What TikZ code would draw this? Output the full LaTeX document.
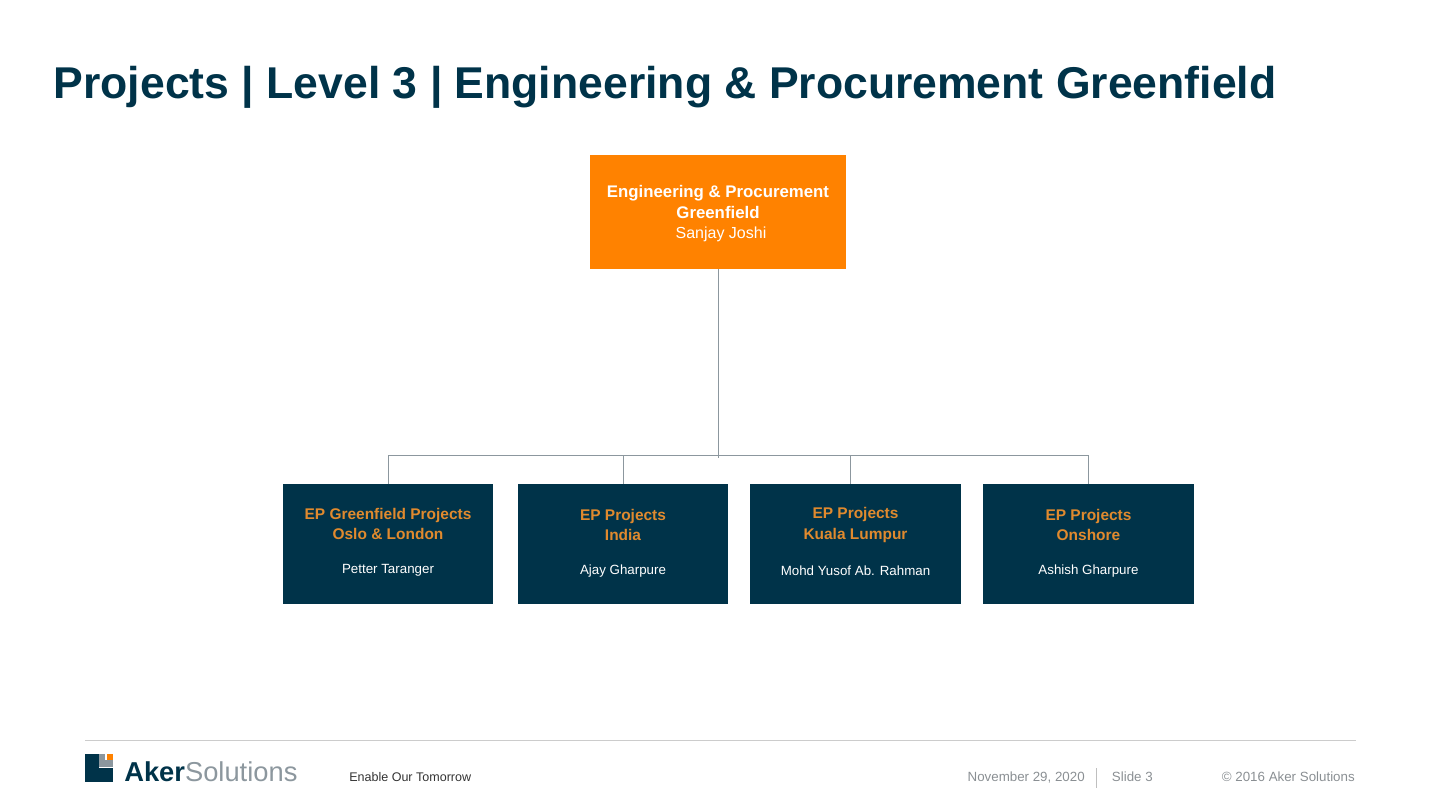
\documentclass[tikz,border=0pt]{standalone}
\usepackage{fontspec}
\setmainfont{Liberation Sans}
\usetikzlibrary{positioning}
\definecolor{akerblue}{HTML}{003349}
\definecolor{akerorange}{HTML}{FF8200}
\definecolor{akertext}{HTML}{E08A2E}
\definecolor{akergrey}{HTML}{8C979E}
\definecolor{footgrey}{HTML}{8A8F93}
\begin{document}
\begin{tikzpicture}[x=0.75pt,y=-0.75pt, top/.style={fill=akerorange,text=white,minimum width=192pt,minimum height=85.5pt,inner sep=0pt,align=center,font=\fontsize{12.6}{16.4}\selectfont},
  ep/.style={fill=akerblue,text=white,minimum width=158pt,minimum height=90pt,inner sep=0pt},
  eptext/.style={align=center,text=akertext,font=\fontsize{11.6}{14.6}\selectfont\bfseries},
  epname/.style={text=white,font=\fontsize{10}{12}\selectfont},
  foot/.style={text=footgrey,font=\fontsize{10}{12}\selectfont,anchor=base east},
  link/.style={draw=akergrey,line width=0.75pt}]
  \useasboundingbox (0,0) rectangle (1440,810);
  \node[anchor=base west,text=akerblue,font=\fontsize{33.4}{40}\selectfont\bfseries] (title) at (49,98) {Projects | Level 3 | Engineering \& Procurement Greenfield};

  \node[top] (head) at (718,212) {};
  \node[text=white,align=center,font=\fontsize{12.6}{16.4}\selectfont\bfseries] (headtext) at (718,202) {Engineering \& Procurement\\Greenfield};
  \node[text=white,font=\fontsize{12}{14}\selectfont] (headname) at (721,234) {Sanjay Joshi};

  \node[ep] (ep1) at (388,544) {};
  \node[ep] (ep2) at (623,544) {};
  \node[ep] (ep3) at (855.5,544) {};
  \node[ep] (ep4) at (1088.5,544) {};

  \node[eptext] at (388,524) {EP Greenfield Projects\\Oslo \& London};
  \node[eptext,font=\fontsize{11.6}{15.6}\selectfont\bfseries] at (623,525) {EP Projects\\India};
  \node[eptext,font=\fontsize{11.6}{15.6}\selectfont\bfseries] at (855.5,525) {EP Projects\\Kuala Lumpur};
  \node[eptext,font=\fontsize{11.6}{15.6}\selectfont\bfseries] at (1088.5,525) {EP Projects\\Onshore};
  \node[epname] at (388,570) {Petter Taranger};
  \node[epname] at (623,571) {Ajay Gharpure};
  \node[epname] at (855.5,571) {Mohd Yusof Ab. Rahman};
  \node[epname] at (1088.5,571) {Ashish Gharpure};

  \coordinate (busa) at (388,455.5);
  \coordinate (busb) at (623,455.5);
  \coordinate (busc) at (850,455.5);
  \coordinate (busd) at (1088,455.5);
  \coordinate (busm) at (718,457.5);
  \coordinate (dropc) at (850,484);
  \coordinate (dropd) at (1088,484);
  \draw[link] (head.south) -- (busm);
  \draw[link] (ep1.north) -- (busa) -- (busd) -- (dropd);
  \draw[link] (ep2.north) -- (busb);
  \draw[link] (busc) -- (dropc);

  % footer
  \coordinate (rulea) at (85,740.5);
  \coordinate (ruleb) at (1356,740.5);
  \draw[draw=black!20,line width=0.75pt] (rulea) -- (ruleb);
  \fill[akerblue] (85,754) rectangle (113,782);
  \fill[white] (99,754) rectangle (113,768);
  \fill[akergrey] (99,754) rectangle (113,767);
  \fill[white] (105,754) rectangle (113,760);
  \fill[akerorange] (107,754) rectangle (113,760);
  \node[anchor=base west,inner sep=0pt,font=\fontsize{20.5}{24}\selectfont] (logo) at (124,781) {\textcolor{akerblue}{\textbf{Aker}}\textcolor{akergrey}{Solutions}};
  \node[anchor=base west,inner sep=0pt,text=black!80,font=\fontsize{9.4}{12}\selectfont] (claim) at (349,781.5) {Enable Our Tomorrow};
  \node[foot,inner sep=0pt] (date) at (1085,781.5) {November 29, 2020};
  \node[foot,inner sep=0pt] (slide) at (1153,781.5) {Slide 3};
  \node[foot,inner sep=0pt] (copy) at (1355,781.5) {© 2016 Aker Solutions};
  \coordinate (sepa) at (1096.5,768);
  \coordinate (sepb) at (1096.5,788);
  \draw[draw=black!25,line width=0.75pt] (sepa) -- (sepb);
\end{tikzpicture}
\end{document}
